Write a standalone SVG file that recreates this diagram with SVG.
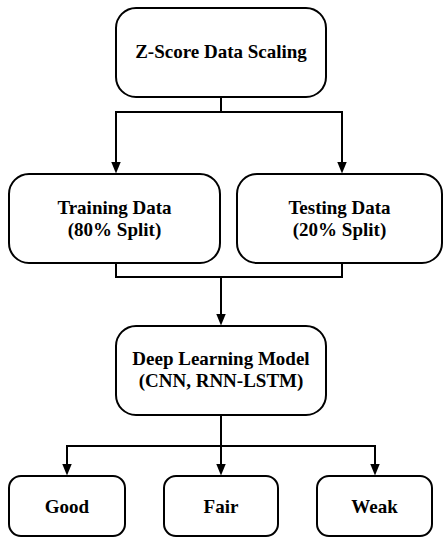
<svg xmlns="http://www.w3.org/2000/svg" width="444" height="538" viewBox="0 0 444 538">
  <defs>
    <style>
      .box { fill: #ffffff; stroke: #000000; stroke-width: 2; }
      .lbl { font-family: "Liberation Serif", "Times New Roman", serif; font-weight: bold; font-size: 19px; fill: #000000; text-anchor: middle; }
      .conn { fill: none; stroke: #000000; stroke-width: 2; }
    </style>
    <marker id="arrow" markerUnits="userSpaceOnUse" markerWidth="12" markerHeight="10" viewBox="0 0 11 9" refX="5" refY="4.5" orient="auto">
      <path d="M0,0 L11,4.5 L0,9 z" fill="#000000"/>
    </marker>
  </defs>
  <rect width="444" height="538" fill="#ffffff"/>

  <g id="connectors">
    <path class="conn" d="M221 97 V112"/>
    <path class="conn" d="M115 112 H343"/>
    <path class="conn" d="M116 112 V167" marker-end="url(#arrow)"/>
    <path class="conn" d="M342 112 V167" marker-end="url(#arrow)"/>
    <path class="conn" d="M116 263 V277 H342 V263"/>
    <path class="conn" d="M221 277 V319" marker-end="url(#arrow)"/>
    <path class="conn" d="M221 415 V446"/>
    <path class="conn" d="M66 446 H376"/>
    <path class="conn" d="M67 446 V469" marker-end="url(#arrow)"/>
    <path class="conn" d="M221 446 V469" marker-end="url(#arrow)"/>
    <path class="conn" d="M375 446 V469" marker-end="url(#arrow)"/>
  </g>

  <g id="zscore">
    <rect class="box" x="116" y="8" width="210" height="89" rx="20" ry="20"/>
    <text class="lbl" x="221" y="58">Z-Score Data Scaling</text>
  </g>

  <g id="training">
    <rect class="box" x="9" y="174" width="211" height="89" rx="20" ry="20"/>
    <text class="lbl" x="114.5" y="214">Training Data</text>
    <text class="lbl" x="114.5" y="236">(80% Split)</text>
  </g>

  <g id="testing">
    <rect class="box" x="237" y="174" width="205" height="89" rx="20" ry="20"/>
    <text class="lbl" x="339.5" y="214">Testing Data</text>
    <text class="lbl" x="339.5" y="236">(20% Split)</text>
  </g>

  <g id="model">
    <rect class="box" x="116" y="326" width="210" height="89" rx="20" ry="20"/>
    <text class="lbl" x="221" y="365">Deep Learning Model</text>
    <text class="lbl" x="221" y="387">(CNN, RNN-LSTM)</text>
  </g>

  <g id="good">
    <rect class="box" x="9" y="476" width="116" height="60" rx="12" ry="12"/>
    <text class="lbl" x="67" y="513">Good</text>
  </g>

  <g id="fair">
    <rect class="box" x="164" y="476" width="114" height="60" rx="12" ry="12"/>
    <text class="lbl" x="221" y="513">Fair</text>
  </g>

  <g id="weak">
    <rect class="box" x="317" y="476" width="115" height="60" rx="12" ry="12"/>
    <text class="lbl" x="374.5" y="513">Weak</text>
  </g>
</svg>
